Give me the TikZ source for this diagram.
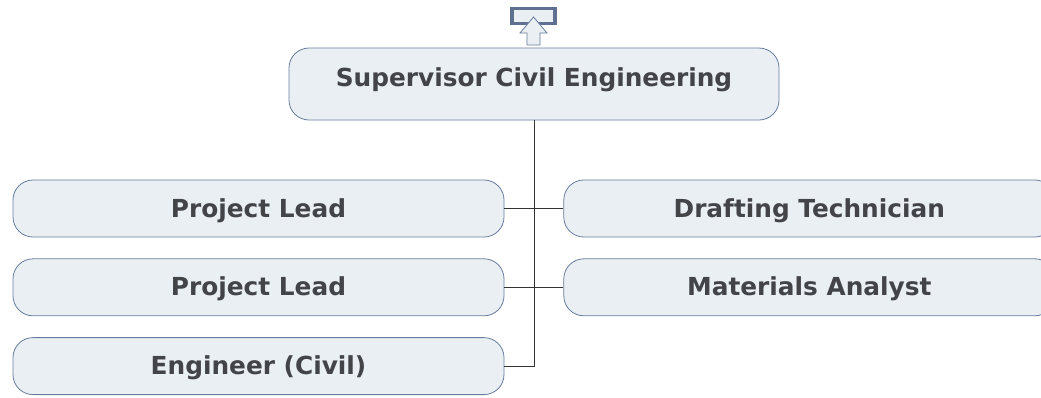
\documentclass[tikz,border=0pt]{standalone}
\usepackage{fontspec}
\setmainfont{DejaVu Sans}
\usepackage{xcolor}
\usetikzlibrary{positioning}
\definecolor{boxfill}{RGB}{234,239,243}
\definecolor{boxline}{RGB}{104,124,158}
\definecolor{iconline}{RGB}{95,112,145}
\definecolor{txt}{RGB}{66,68,72}

\begin{document}
\begin{tikzpicture}[x=1pt,y=-1pt,
  font=\fontsize{24.8}{29}\selectfont\bfseries,
  role/.style={draw=boxline,fill=boxfill,rounded corners=20pt,line width=.8pt,
               minimum width=491pt,minimum height=57pt,inner sep=0pt,
               text=txt,text height=18pt,text depth=1pt},
  link/.style={line width=.9pt,black!80}]
\clip (0,0) rectangle (1041,397);
\node[role,minimum width=490pt,minimum height=72pt,text depth=12.5pt] (sup) at (534,84)
  {Supervisor Civil Engineering};
\node[role] (lead1) at (258.5,208.5) {Project Lead};
\node[role,below=21pt of lead1] (lead2) {Project Lead};
\node[role,below=21pt of lead2] (eng) {Engineer (Civil)};
\node[role,right=59pt of lead1] (draft) {Drafting Technician};
\node[role,right=59pt of lead2] (mat) {Materials Analyst};
% connectors
\draw[link] (sup.south) -- (sup.south |- eng.east) -- (eng.east);
\draw[link] (lead1.east) -- (draft.west);
\draw[link] (lead2.east) -- (mat.west);
% parent marker
\draw[iconline,line width=3.5pt,fill=boxfill] (512,8.5) rectangle (555,23.5);
\draw[boxline,line width=.8pt,fill=boxfill] (533.5,17) -- (547,33) -- (540,33) -- (540,45)
  -- (527,45) -- (527,33) -- (520,33) -- cycle;
\end{tikzpicture}
\end{document}
